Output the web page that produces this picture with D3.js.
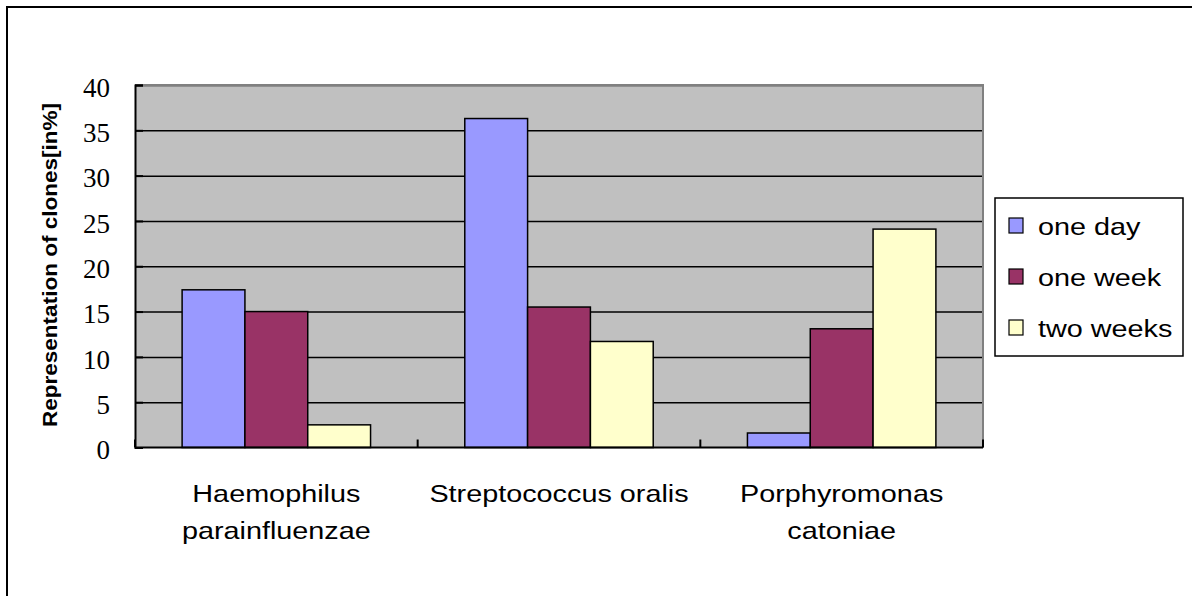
<!DOCTYPE html>
<meta charset="utf-8">
<body style="margin:0;background:#fff">
<script src="https://cdn.jsdelivr.net/npm/d3@7"></script>
<script>
// data
var categories = ["Haemophilus parainfluenzae", "Streptococcus oralis", "Porphyromonas catoniae"];
var categoryLines = [["Haemophilus", "parainfluenzae"], ["Streptococcus oralis"], ["Porphyromonas", "catoniae"]];
var series = ["one day", "one week", "two weeks"];
var oneDay = [17.4, 36.3, 1.6];
var oneWeek = [15.0, 15.5, 13.1];
var twoWeeks = [2.5, 11.7, 24.1];
var yTicks = [0, 5, 10, 15, 20, 25, 30, 35, 40];
var colors = ["#9999FF", "#993366", "#FFFFCC"];

var W = 1192, H = 596;
var plot = {left: 135, right: 983, top: 85, bottom: 447.5};

var svg = d3.select("body").append("svg")
	.attr("width", W)
	.attr("height", H);

// outer chart border (right/bottom fall outside the picture)
svg.append("rect")
	.attr("x", 7).attr("y", 7)
	.attr("width", W + 20).attr("height", H + 20)
	.attr("fill", "#fff")
	.attr("stroke", "#000")
	.attr("stroke-width", 2);

var y = d3.scaleLinear().domain([0, 40]).range([plot.bottom, plot.top]);
var x0 = d3.scaleBand().domain(categories).range([plot.left, plot.right]);
var barW = x0.bandwidth() / 4.5;   // excel gap width 150%
var x1 = d3.scaleBand().domain(series).range([0.75 * barW, 3.75 * barW]);

// plot background
svg.append("rect")
	.attr("x", plot.left).attr("y", plot.top)
	.attr("width", plot.right - plot.left).attr("height", plot.bottom - plot.top)
	.attr("fill", "#C0C0C0");

// gridlines
var grid = svg.append("g")
	.attr("transform", "translate(" + plot.left + ",0)")
	.call(d3.axisLeft(y).tickValues(yTicks.slice(1)).tickSize(-(plot.right - plot.left)).tickFormat(""));
grid.select(".domain").remove();
grid.selectAll("line").attr("stroke", "#000").attr("stroke-width", 1.5);

// bars
var rows = categories.map(function(c, i) {
	return {cat: c, vals: [oneDay[i], oneWeek[i], twoWeeks[i]]};
});
svg.append("g").selectAll("g")
	.data(rows)
	.join("g")
	.attr("transform", function(d) { return "translate(" + x0(d.cat) + ",0)"; })
	.selectAll("rect")
	.data(function(d) { return d.vals.map(function(v, j) { return {s: series[j], v: v, j: j}; }); })
	.join("rect")
	.attr("x", function(d) { return x1(d.s); })
	.attr("width", x1.bandwidth())
	.attr("y", function(d) { return y(d.v); })
	.attr("height", function(d) { return y(0) - y(d.v); })
	.attr("fill", function(d) { return colors[d.j]; })
	.attr("stroke", "#000")
	.attr("stroke-width", 1.5);

// plot border top/right grey
svg.append("path")
	.attr("d", "M" + plot.left + "," + plot.top + "H" + plot.right + "V" + plot.bottom)
	.attr("fill", "none")
	.attr("stroke", "#808080")
	.attr("stroke-width", 2);

// y axis
var yAxis = svg.append("g")
	.attr("transform", "translate(" + plot.left + ",0)")
	.call(d3.axisLeft(y).tickValues(yTicks).tickSize(-8).tickPadding(25));
yAxis.select(".domain").attr("stroke", "#000").attr("stroke-width", 2);
yAxis.selectAll("line").attr("stroke", "#000").attr("stroke-width", 2);
yAxis.selectAll("text")
	.attr("font-family", "Liberation Serif, Times New Roman, serif")
	.attr("font-size", 27)
	.attr("fill", "#000")
	.attr("dy", "0.42em");

// x axis line + inside ticks at category boundaries
var bounds = categories.map(function(c) { return x0(c); }).concat([plot.right]);
svg.append("line")
	.attr("x1", plot.left).attr("x2", plot.right)
	.attr("y1", plot.bottom).attr("y2", plot.bottom)
	.attr("stroke", "#000").attr("stroke-width", 2);
svg.append("g").selectAll("line")
	.data(bounds)
	.join("line")
	.attr("x1", function(d) { return d; }).attr("x2", function(d) { return d; })
	.attr("y1", plot.bottom).attr("y2", plot.bottom - 8)
	.attr("stroke", "#000").attr("stroke-width", 2);

// category labels
svg.append("g").selectAll("g")
	.data(categories)
	.join("g")
	.attr("transform", function(d) { return "translate(" + (x0(d) + x0.bandwidth() / 2) + ",502) scale(1.2,1)"; })
	.selectAll("text")
	.data(function(d, i) { return categoryLines[i]; })
	.join("text")
	.attr("y", function(d, i) { return i * 37; })
	.attr("text-anchor", "middle")
	.attr("font-family", "Liberation Sans, Arial, sans-serif")
	.attr("font-size", 24)
	.attr("fill", "#000")
	.text(function(d) { return d; });

// y axis title
svg.append("text")
	.attr("transform", "translate(57,265) rotate(-90) scale(1,1.15)")
	.attr("text-anchor", "middle")
	.attr("font-family", "Liberation Sans, Arial, sans-serif")
	.attr("font-weight", "bold")
	.attr("font-size", 17)
	.attr("textLength", 324)
	.attr("lengthAdjust", "spacingAndGlyphs")
	.text("Representation of clones[in%]");

// legend
var legend = svg.append("g");
legend.append("rect")
	.attr("x", 995).attr("y", 198)
	.attr("width", 188).attr("height", 158)
	.attr("fill", "#fff")
	.attr("stroke", "#000")
	.attr("stroke-width", 1.5);
var items = legend.selectAll("g.item")
	.data(series)
	.join("g")
	.attr("class", "item")
	.attr("transform", function(d, i) { return "translate(1009," + (218 + i * 51) + ")"; });
items.append("rect")
	.attr("width", 14).attr("height", 15)
	.attr("fill", function(d, i) { return colors[i]; })
	.attr("stroke", "#000")
	.attr("stroke-width", 1.2);
items.append("text")
	.attr("transform", "translate(29,17) scale(1.2,1)")
	.attr("font-family", "Liberation Sans, Arial, sans-serif")
	.attr("font-size", 24)
	.attr("fill", "#000")
	.text(function(d) { return d; });
</script>
</body>
